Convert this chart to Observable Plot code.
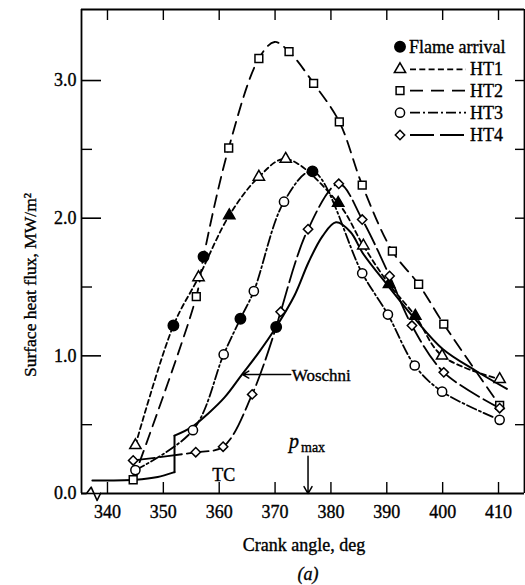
<!DOCTYPE html>
<html><head><meta charset="utf-8">
<script src="https://cdn.jsdelivr.net/npm/d3@7"></script>
<script src="https://cdn.jsdelivr.net/npm/@observablehq/plot@0.6"></script>
<style>
html,body{margin:0;padding:0;background:#fff;}
#chart{position:relative;width:525px;height:585px;}
#chart text{stroke:black;stroke-width:0.35px;}
</style></head><body><div id="chart"></div>
<script>
// ---------- data ----------
const xTicks = [340, 350, 360, 370, 380, 390, 400, 410];
const yTicks = [0, 1, 2, 3];
const yMinorTicks = [0.5, 1.5, 2.5];
const yRightTicks = [0.5, 1, 1.5, 2, 2.5, 3];

const ht1Angle = [345, 356.3, 361.8, 367.1, 371.9, 381.3, 385.8, 390.4, 395.1, 399.9, 410.2];
const ht1Flux  = [0.35, 1.57, 2.02, 2.30, 2.43, 2.11, 1.80, 1.52, 1.29, 1.00, 0.83];
const ht1FilledAngle = [361.8, 381.3, 390.4, 395.1];

const ht2Angle = [344.6, 355.9, 361.7, 367.1, 372.5, 376.9, 381.5, 385.6, 391.0, 395.7, 400.2, 410.2];
const ht2Flux  = [0.10, 1.43, 2.51, 3.16, 3.21, 2.98, 2.70, 2.24, 1.76, 1.52, 1.23, 0.64];
// crest of the drawn HT2 curve (no marker there)
const ht2CrestAngle = [369.9];
const ht2CrestFlux  = [3.28];

const ht3Angle = [345, 355.3, 360.8, 366.2, 371.6, 385.6, 390.2, 395.0, 399.9, 410.2];
const ht3Flux  = [0.17, 0.46, 1.01, 1.47, 2.12, 1.60, 1.30, 0.93, 0.74, 0.535];

const ht4Angle = [344.6, 355.8, 360.7, 365.9, 371.0, 375.9, 381.4, 385.6, 390.5, 394.5, 400.2, 410.2];
const ht4Flux  = [0.24, 0.30, 0.34, 0.72, 1.32, 1.92, 2.25, 1.99, 1.58, 1.22, 0.88, 0.62];

const flameAngle = [351.8, 357.2, 363.8, 370.2, 376.7];
const flameFlux  = [1.22, 1.72, 1.27, 1.21, 2.34];
const flameProbe = ["HT1", "HT2", "HT3", "HT4", "HT3"];

// Woschni prediction: before the step, the step, after the step
const woschniLowAngle = [337.3, 345, 349, 352];
const woschniLowFlux  = [0.094, 0.10, 0.12, 0.155];
const woschniHighAngle = [352, 355, 358, 361, 364, 367, 370.2, 373.5, 376, 378.5, 380.9, 383.5, 385.8, 390.4, 395, 400, 406, 411.5];
const woschniHighFlux  = [0.42, 0.48, 0.58, 0.70, 0.86, 1.02, 1.21, 1.44, 1.68, 1.87, 1.97, 1.90, 1.74, 1.50, 1.27, 1.05, 0.89, 0.76];

// annotations (data units)
const woschniNote = [{x: 372.8, tip: 364.2, y: 0.864, textY: 0.82, label: "Woschni"}];
const tcNote = [{x: 360.8, y: 0.094, label: "TC"}];
const pmaxNote = [{x: 375.9, y1: 0.27, y2: 0.0, px: 373.4, py: 0.334, mx: 376.8, my: 0.30}];
const breakX = [336.24, 337.08, 338.14, 338.75];
const breakY = [0, 0.046, -0.051, 0];

// ---------- layout ----------
const W = 525, H = 585;
const mL = 81, mR = 1, mT = 9, mB = 92;
const pw = W - mL - mR, ph = H - mT - mB;
const xDomain = [335.35, 414.65];
const yDomain = [0, 3.516];
const FONT = "Liberation Serif";

const series = [
  {name: "HT1", angle: ht1Angle, flux: ht1Flux, extraA: [], extraF: [], symbol: "triangle", r: 4.2, dash: "5,3.5"},
  {name: "HT2", angle: ht2Angle, flux: ht2Flux, extraA: ht2CrestAngle, extraF: ht2CrestFlux, symbol: "square", r: 4.4, dash: "12,7"},
  {name: "HT3", angle: ht3Angle, flux: ht3Flux, extraA: [], extraF: [], symbol: "circle", r: 4.6, dash: "10,3,2,3"},
  {name: "HT4", angle: ht4Angle, flux: ht4Flux, extraA: [], extraF: [], symbol: "diamond2", r: 4.2, dash: "22,5"}
];

const lineMarks = [];
const dotMarks = [];
for (const s of series) {
  const pts = s.angle.map((a, i) => ({angle: a, flux: s.flux[i]}));
  s.extraA.forEach((a, i) => pts.push({angle: a, flux: s.extraF[i]}));
  flameAngle.forEach((a, i) => { if (flameProbe[i] === s.name) pts.push({angle: a, flux: flameFlux[i]}); });
  pts.sort((p, q) => p.angle - q.angle);
  lineMarks.push(Plot.line(pts, {x: "angle", y: "flux", curve: "catmull-rom", stroke: "black", strokeWidth: 1.8, strokeDasharray: s.dash}));
  const mk = s.angle.map((a, i) => ({angle: a, flux: s.flux[i], filled: s.name === "HT1" && ht1FilledAngle.includes(a)}));
  dotMarks.push(Plot.dot(mk, {x: "angle", y: "flux", symbol: () => s.symbol, r: s.r, stroke: "black", strokeWidth: 1.5, fill: d => d.filled ? "black" : "white"}));
}
const wLow = woschniLowAngle.map((a, i) => ({angle: a, flux: woschniLowFlux[i]}));
const wHigh = woschniHighAngle.map((a, i) => ({angle: a, flux: woschniHighFlux[i]}));
const wStep = [wLow[wLow.length - 1], wHigh[0]];
const flame = flameAngle.map((a, i) => ({angle: a, flux: flameFlux[i]}));

const plot = Plot.plot({
  width: W, height: H,
  marginLeft: mL, marginRight: mR, marginTop: mT, marginBottom: mB,
  x: {domain: xDomain},
  y: {domain: yDomain},
  style: {fontFamily: FONT, fontSize: "18px", background: "white", color: "black"},
  marks: [
    // frame
    Plot.ruleX([xDomain[0], xDomain[1]], {x: d => d, strokeWidth: 1.8}),
    Plot.ruleY([yDomain[1]], {y: d => d, strokeWidth: 1.8}),
    Plot.ruleY([{a: xDomain[0], b: breakX[0]}, {a: breakX[3], b: xDomain[1]}], {y: () => 0, x1: "a", x2: "b", strokeWidth: 1.8}),
    Plot.line(breakX.map((x, i) => ({x, y: breakY[i]})), {x: "x", y: "y", strokeWidth: 1.6, clip: false}),
    // ticks
    Plot.tickY(yTicks, {y: d => d, insetRight: pw - 20, strokeWidth: 1.6}),
    Plot.tickY(yMinorTicks, {y: d => d, insetRight: pw - 11, strokeWidth: 1.4}),
    Plot.tickY(yRightTicks, {y: d => d, insetLeft: pw - 9, strokeWidth: 1.4}),
    Plot.tickX(xTicks, {x: d => d, insetTop: ph - 11, strokeWidth: 1.4}),
    Plot.tickX(xTicks, {x: d => d, insetBottom: ph - 11, strokeWidth: 1.4}),
    Plot.axisX(xTicks, {tickSize: 0, tickPadding: 12, label: null, fontSize: 18}),
    Plot.axisY(yTicks, {tickSize: 0, tickPadding: 5, label: null, tickFormat: d3.format(".1f"), fontSize: 18}),
    // data
    Plot.line(wLow, {x: "angle", y: "flux", curve: "catmull-rom", stroke: "black", strokeWidth: 2}),
    Plot.line(wStep, {x: "angle", y: "flux", stroke: "black", strokeWidth: 2}),
    Plot.line(wHigh, {x: "angle", y: "flux", curve: "catmull-rom", stroke: "black", strokeWidth: 2}),
    ...lineMarks,
    ...dotMarks,
    Plot.dot(flame, {x: "angle", y: "flux", r: 5.2, fill: "black", stroke: "black"}),
    // annotations
    Plot.arrow(woschniNote, {x1: "x", x2: "tip", y1: "y", y2: "y", headLength: 7, strokeWidth: 1.5}),
    Plot.text(woschniNote, {x: "x", y: "textY", text: "label", textAnchor: "start", lineAnchor: "bottom", dx: 1, fontSize: 17}),
    Plot.text(tcNote, {x: "x", y: "y", text: "label", lineAnchor: "bottom", fontSize: 18}),
    Plot.arrow(pmaxNote, {x1: "x", x2: "x", y1: "y1", y2: "y2", headLength: 8, strokeWidth: 1.5}),
    Plot.text(pmaxNote, {x: "px", y: "py", text: () => "p", fontStyle: "italic", lineAnchor: "bottom", fontSize: 20}),
    Plot.text(pmaxNote, {x: "mx", y: "my", text: () => "max", lineAnchor: "bottom", fontSize: 14}),
    // axis titles
    Plot.text(["Crank angle, deg"], {frameAnchor: "bottom", dy: 57, dx: 1, lineAnchor: "bottom", fontSize: 18}),
    Plot.text(["(a)"], {frameAnchor: "bottom", dy: 86, dx: 5, lineAnchor: "bottom", fontStyle: "italic", fontSize: 18})
  ]
});
document.getElementById("chart").appendChild(plot);

const svg = d3.select(plot);
// y-axis title, centred on the reference's position
svg.append("text").attr("transform", "translate(36,285) rotate(-90)")
  .attr("text-anchor", "middle").attr("font-family", FONT).attr("font-size", 17.5)
  .attr("fill", "black").text("Surface heat flux, MW/m²");

// ---------- legend (inside plot area, top right) ----------
const lg = svg.append("g").attr("font-family", FONT).attr("font-size", 18).attr("fill", "black").attr("text-anchor", "start");
const legendItems = [
  {label: "Flame arrival", symbol: d3.symbolCircle, r: 5.2, fill: "black", y: 46.7, dash: null},
  {label: "HT1", symbol: d3.symbolTriangle, r: 4.2, fill: "white", y: 69.3, dash: "6,3.3"},
  {label: "HT2", symbol: d3.symbolSquare, r: 4.4, fill: "white", y: 90.7, dash: "13,8"},
  {label: "HT3", symbol: d3.symbolCircle, r: 4.6, fill: "white", y: 112.7, dash: "10,3,2,3"},
  {label: "HT4", symbol: d3.symbolDiamond2, r: 4.2, fill: "white", y: 135, dash: "24,6"}
];
for (const it of legendItems) {
  lg.append("path").attr("d", d3.symbol(it.symbol, Math.PI * it.r * it.r)())
    .attr("transform", `translate(400,${it.y})`).attr("fill", it.fill).attr("stroke", "black").attr("stroke-width", 1.5);
  if (it.dash) {
    lg.append("line").attr("x1", 410).attr("x2", 466).attr("y1", it.y).attr("y2", it.y)
      .attr("stroke", "black").attr("stroke-width", 1.8).attr("stroke-dasharray", it.dash);
    lg.append("text").attr("x", 470).attr("y", it.y + 6).text(it.label);
  } else {
    lg.append("text").attr("x", 409).attr("y", it.y + 6).text(it.label);
  }
}
</script></body></html>
